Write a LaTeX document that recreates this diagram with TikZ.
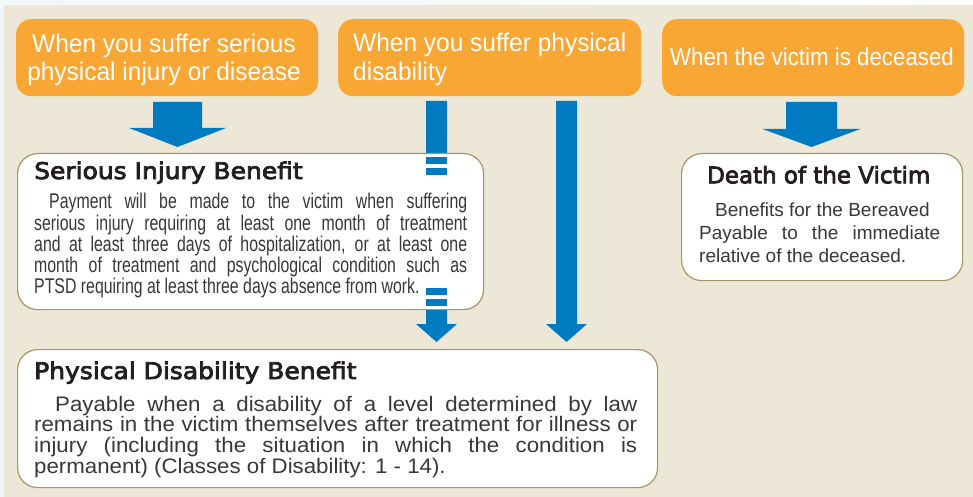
\documentclass[tikz,border=0pt]{standalone}
\usepackage{fontspec}
\usepackage{graphicx}
\setmainfont{Liberation Sans}
\newfontfamily\orfont[FakeStretch=0.96]{Liberation Sans}
\newfontfamily\orfontn[FakeStretch=0.91]{Liberation Sans}
\newfontfamily\headfont[FakeStretch=1.09,FakeBold=3.5]{DejaVu Sans}
\newfontfamily\condfont[FakeStretch=0.745]{Liberation Sans}
\newfontfamily\widefont[FakeStretch=1.06]{Liberation Sans}
\definecolor{topbg}{HTML}{F1F7FB}
\definecolor{beige}{HTML}{EDE7D7}
\definecolor{orangebox}{HTML}{F8A634}
\definecolor{arrowblue}{HTML}{007AC1}
\definecolor{goldline}{HTML}{A89564}
\definecolor{headcol}{HTML}{231F20}
\definecolor{bodycol}{HTML}{383838}
\newcommand\blockarrow[6]{%
  \fill[arrowblue] (#1-#5,#2) -- (#1+#5,#2) -- (#1+#5,#3) -- (#1+#6,#3) -- (#1,#4) -- (#1-#6,#3) -- (#1-#5,#3) -- cycle;}
\tikzset{
  obox/.style={fill=orangebox, draw=none, rounded corners=15pt, anchor=north west, inner sep=0pt},
  wbox/.style={fill=white, draw=goldline, line width=1.2pt, rounded corners=20pt, anchor=north west, inner sep=0pt},
  otext/.style={inner sep=0pt, text=white, font=\orfont\fontsize{25.5}{28}\selectfont},
  otextn/.style={inner sep=0pt, text=white, font=\orfontn\fontsize{24.5}{28}\selectfont},
  htext/.style={inner sep=0pt, anchor=base west, text=headcol, font=\headfont\fontsize{22.9}{26}\selectfont},
  sbody/.style={inner sep=0pt, anchor=base west, text=bodycol, font=\condfont\fontsize{21.3}{22}\selectfont},
  pbody/.style={inner sep=0pt, anchor=base west, text=bodycol, font=\widefont\fontsize{21}{22}\selectfont},
  dbody/.style={inner sep=0pt, anchor=base west, text=bodycol, font=\fontsize{19}{22}\selectfont},
}
\begin{document}
\begin{tikzpicture}[x=1pt,y=-1pt]
\useasboundingbox (0,0) rectangle (973,497);
\shade[left color=topbg, right color=white] (0,0) rectangle (973,5);
\fill[topbg] (0,5) rectangle (4,497);
\fill[beige] (4,5) rectangle (973,497);
% orange boxes
\node[obox, minimum width=302pt, minimum height=77pt] (o1) at (16,19) {};
\node[obox, minimum width=303pt, minimum height=77pt] (o2) at (338,19) {};
\node[obox, minimum width=302pt, minimum height=77pt] (o3) at (662,19) {};
% arrows
\blockarrow{177.5}{102}{128}{147}{24.5}{48.5}
\blockarrow{811.5}{102}{129}{147}{25.5}{49}
\blockarrow{436.5}{101}{324}{342}{10.5}{20.5}
\blockarrow{566.5}{101}{324}{342}{10.5}{20.5}
% white boxes
\node[wbox, minimum width=466pt, minimum height=156pt] (sib) at (17,153) {};
\node[wbox, minimum width=281pt, minimum height=127pt] (dv) at (681,153) {};
\node[wbox, minimum width=640pt, minimum height=138pt] (pdb) at (17,349) {};
% bars on the arrow behind the box
\fill[arrowblue] (426,157) rectangle (447,164);
\fill[arrowblue] (426,168) rectangle (447,175);
\fill[arrowblue] (426,288) rectangle (447,295);
\fill[arrowblue] (426,299) rectangle (447,306);
% orange texts
\node[otext, anchor=base] (o1a) at (164,53) {When you suffer serious};
\node[otext, anchor=base] (o1b) at (164,81) {physical injury or disease};
\node[otext, anchor=base west] (o2a) at (353,52) {When you suffer physical};
\node[otext, anchor=base west] (o2b) at (353,81) {disability};
\node[otextn, anchor=base] (o3a) at (812,66) {When the victim is deceased};
% serious injury
\node[htext] (sibh) at (34,179) {Serious Injury Benefit};
\node[sbody] (sib1) at (49,208) {\makebox[418pt][s]{Payment will be made to the victim when suffering}};
\node[sbody] (sib2) at (34,230) {\makebox[433pt][s]{serious injury requiring at least one month of treatment}};
\node[sbody] (sib3) at (34,251) {\makebox[433pt][s]{and at least three days of hospitalization, or at least one}};
\node[sbody] (sib4) at (34,272.5) {\makebox[433pt][s]{month of treatment and psychological condition such as}};
\node[sbody] (sib5) at (34,293.5) {PTSD requiring at least three days absence from work.};
% death
\node[htext] (dvh) at (707,183.3) {\scalebox{0.92}[1]{Death of the Victim}};
\node[dbody] (dv1) at (715,216) {Benefits for the Bereaved};
\node[dbody] (dv2) at (699,239.5) {\makebox[241pt][s]{Payable to the immediate}};
\node[dbody] (dv3) at (699,262.7) {relative of the deceased.};
% physical disability
\node[htext] (pdbh) at (34,379) {Physical Disability Benefit};
\node[pbody] (pdb1) at (55,411) {\makebox[582pt][s]{Payable when a disability of a level determined by law}};
\node[pbody] (pdb2) at (34,431.5) {\makebox[603pt][s]{remains in the victim themselves after treatment for illness or}};
\node[pbody] (pdb3) at (34,452.3) {\makebox[603pt][s]{injury (including the situation in which the condition is}};
\node[pbody] (pdb4) at (34,473) {permanent) (Classes of Disability: 1 - 14).};
\end{tikzpicture}
\end{document}
